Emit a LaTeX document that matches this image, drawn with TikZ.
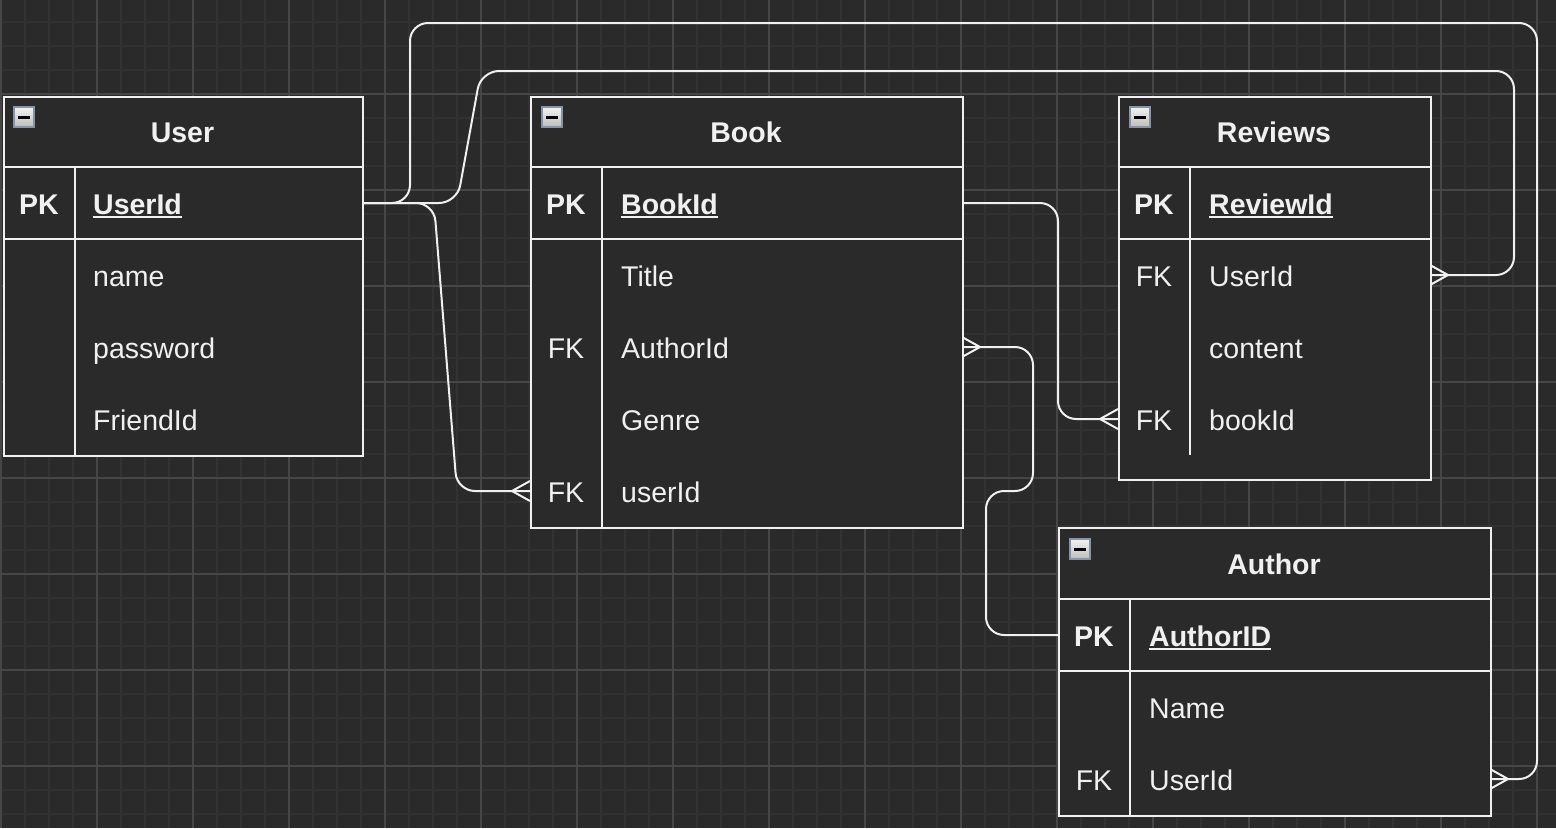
\documentclass[tikz,border=0pt]{standalone}
\usepackage{fontspec}
\setmainfont{Liberation Sans}
\definecolor{bg}{HTML}{2A2A2A}
\definecolor{gridminor}{HTML}{323232}
\definecolor{gridmajor}{HTML}{464646}
\definecolor{ink}{HTML}{F0F0F0}
\definecolor{iconedge}{HTML}{8A93A5}
\definecolor{icontop}{HTML}{F2F2F2}
\definecolor{iconbot}{HTML}{BDBDBD}
\tikzset{
  tbl/.style={draw=ink, fill=bg, line width=2pt, inner sep=0pt, anchor=north west},
  sep/.style={draw=ink, line width=2pt},
  conn/.style={draw=ink, line width=2pt, rounded corners=18pt, line cap=round},
  foot/.style={draw=ink, line width=2pt},
  txt/.style={text=ink, inner sep=0pt, font=\fontsize{28.5}{34}\selectfont},
  title/.style={txt, anchor=base, font=\fontsize{28.5}{34}\selectfont\bfseries},
  keyb/.style={txt, anchor=base, font=\fontsize{28.5}{34}\selectfont\bfseries},
  keyr/.style={txt, anchor=base},
  field/.style={txt, anchor=base west},
  pkfield/.style={txt, anchor=base west, font=\fontsize{28.5}{34}\selectfont\bfseries},
  uline/.style={draw=ink, line width=2pt},
  iconbox/.style={draw=iconedge, line width=2pt, top color=icontop, bottom color=iconbot, minimum size=20pt, inner sep=0pt},
  iconbar/.style={draw=black, line width=3pt}
}
\newcommand\crowfoot[2]{%
  \draw[foot] ([xshift=#2pt]#1) -- ([yshift=10pt]#1) ([xshift=#2pt]#1) -- ([yshift=-10pt]#1);}
\newcommand\minusicon[1]{%
  \draw[iconbar] ([xshift=-6pt]#1.center) -- ([xshift=6pt]#1.center);}
\newcommand\ul[1]{%
  \draw[uline] ([yshift=-3pt]#1.base west) -- ([yshift=-3pt]#1.base east);}
\begin{document}
\begin{tikzpicture}[x=1pt,y=-1pt]
\useasboundingbox (0,0) rectangle (1556,828);
\fill[bg] (0,0) rectangle (1556,828);
% grid
\foreach \gx in {1,25,...,1556} \draw[gridminor, line width=1.2pt] (\gx,0) -- (\gx,828);
\foreach \gy in {22,46,...,828} \draw[gridminor, line width=1.2pt] (0,\gy) -- (1556,\gy);
\foreach \gx in {1,97,...,1556} \draw[gridmajor, line width=1.2pt] (\gx,0) -- (\gx,828);
\foreach \gy in {-2,94,...,828} \draw[gridmajor, line width=1.2pt] (0,\gy) -- (1556,\gy);

% connection points
\coordinate (uPKr) at (362,203);
\coordinate (bPKr) at (962,203);
\coordinate (bAr) at (962,347);
\coordinate (bUl) at (530,491);
\coordinate (rUr) at (1430,275);
\coordinate (rBl) at (1118,419);
\coordinate (aPKl) at (1058,635);
\coordinate (aUr) at (1490,779);

% connectors
\draw[conn] (uPKr) -- (410,203) -- (410,23) -- (1537,23) -- (1537,779) -- (aUr);
\draw[conn] (uPKr) -- (457,203) -- (481,71) -- (1514,71) -- (1514,275) -- (rUr);
\draw[conn] (uPKr) -- (434,203) -- (457,491) -- (bUl);
\draw[conn] (bPKr) -- (1058,203) -- (1058,419) -- (rBl);
\draw[conn] (aPKl) -- (986,635) -- (986,491) -- (1033,491) -- (1033,347) -- (bAr);
\crowfoot{aUr}{18}
\crowfoot{rUr}{18}
\crowfoot{bUl}{-18}
\crowfoot{rBl}{-18}
\crowfoot{bAr}{18}

% ---- User table
\node[tbl, minimum width=359pt, minimum height=359pt] (User) at (3,96) {};
\draw[sep] (3,167) -- (362,167);
\draw[sep] (3,239) -- (362,239);
\draw[sep] (75,167) -- (75,455);
\node[iconbox] (uIcon) at (24,117) {};
\minusicon{uIcon}
\node[title] (uT) at (182.5,142) {User};
\node[keyb] (uK1) at (39,214) {PK};
\node[pkfield] (uF1) at (93,214) {UserId};
\ul{uF1}
\node[field] (uF2) at (93,286) {name};
\node[field] (uF3) at (93,358) {password};
\node[field] (uF4) at (93,430) {FriendId};

% ---- Book table
\node[tbl, minimum width=432pt, minimum height=431pt] (Book) at (530,96) {};
\draw[sep] (530,167) -- (962,167);
\draw[sep] (530,239) -- (962,239);
\draw[sep] (602,167) -- (602,527);
\node[iconbox] (bIcon) at (552,117) {};
\minusicon{bIcon}
\node[title] (bT) at (746,142) {Book};
\node[keyb] (bK1) at (566,214) {PK};
\node[pkfield] (bF1) at (621,214) {BookId};
\ul{bF1}
\node[field] (bF2) at (621,286) {Title};
\node[keyr] (bK3) at (566,358) {FK};
\node[field] (bF3) at (621,358) {AuthorId};
\node[field] (bF4) at (621,430) {Genre};
\node[keyr] (bK5) at (566,502) {FK};
\node[field] (bF5) at (621,502) {userId};

% ---- Reviews table
\node[tbl, minimum width=312pt, minimum height=383pt] (Reviews) at (1118,96) {};
\draw[sep] (1118,167) -- (1430,167);
\draw[sep] (1118,239) -- (1430,239);
\draw[sep] (1190,167) -- (1190,455);
\node[iconbox] (rIcon) at (1140,117) {};
\minusicon{rIcon}
\node[title] (rT) at (1274,142) {Reviews};
\node[keyb] (rK1) at (1154,214) {PK};
\node[pkfield] (rF1) at (1209,214) {ReviewId};
\ul{rF1}
\node[keyr] (rK2) at (1154,286) {FK};
\node[field] (rF2) at (1209,286) {UserId};
\node[field] (rF3) at (1209,358) {content};
\node[keyr] (rK4) at (1154,430) {FK};
\node[field] (rF4) at (1209,430) {bookId};

% ---- Author table
\node[tbl, minimum width=432pt, minimum height=288pt] (Author) at (1058,527) {};
\draw[sep] (1058,599) -- (1490,599);
\draw[sep] (1058,671) -- (1490,671);
\draw[sep] (1130,599) -- (1130,815);
\node[iconbox] (aIcon) at (1080,549) {};
\minusicon{aIcon}
\node[title] (aT) at (1274,574) {Author};
\node[keyb] (aK1) at (1094,646) {PK};
\node[pkfield] (aF1) at (1149,646) {AuthorID};
\ul{aF1}
\node[field] (aF2) at (1149,718) {Name};
\node[keyr] (aK3) at (1094,790) {FK};
\node[field] (aF3) at (1149,790) {UserId};
\end{tikzpicture}
\end{document}
